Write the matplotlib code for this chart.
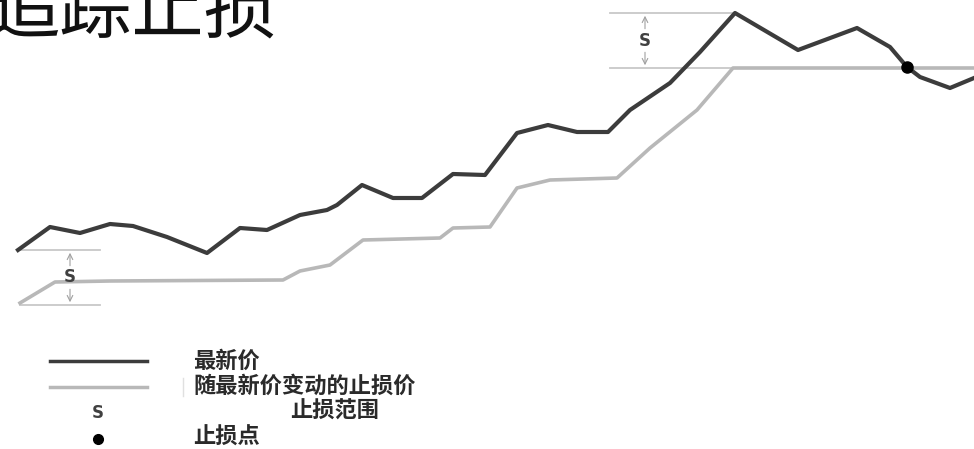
import matplotlib.pyplot as plt
from matplotlib.lines import Line2D

plt.rcParams['font.family'] = ['Noto Sans CJK SC', 'DejaVu Sans']

# latest price (time, price)
t_price = [18, 50, 80, 110, 133, 167, 207, 240, 267, 300, 327, 337, 362, 393, 422,
           453, 485, 517, 548, 577, 608, 630, 670, 700, 735, 798, 857, 890, 907, 920, 950, 974]
price = [199, 222, 216, 225, 223, 212, 196, 221, 219, 234, 239, 244, 264, 251, 251,
         275, 274, 316, 324, 317, 317, 339, 366, 397, 436, 399, 421, 402, 382, 372, 361, 371]

# trailing stop that follows the latest price
t_stop = [20, 55, 110, 283, 300, 330, 363, 440, 453, 490, 517, 550, 617, 650, 697, 733, 974]
stop = [146, 167, 168, 169, 178, 184, 209, 211, 221, 222, 261, 269, 271, 301, 339, 381, 381]

# stop-out point
hit_t, hit_p = 907, 382

# stop distance S shown at start and at the peak
s_marks = [(20, 100, 199, 144), (610, 733, 436, 381)]

dark = '#3c3c3c'
light = '#b8b8b8'

fig = plt.figure(figsize=(9.74, 4.49), dpi=100)
ax = fig.add_axes([0, 0, 1, 1])
ax.set_xlim(0, 974)
ax.set_ylim(0, 449)
ax.axis('off')

ax.plot(t_stop, stop, color=light, lw=2.6, solid_joinstyle='round')
ax.plot(t_price, price, color=dark, lw=3.0, solid_joinstyle='round')

for x0, x1, top, bot in s_marks:
    ax.plot([x0, x1], [top, top], color='#c8c8c8', lw=1.3, zorder=0)
    ax.plot([x0, x1], [bot, bot], color='#c8c8c8', lw=1.3, zorder=0)
    xm = x0 + 50 if x0 < 100 else x0 + 35
    mid = (top + bot) / 2
    ax.annotate('', xy=(xm, top), xytext=(xm, mid + 9),
                arrowprops=dict(arrowstyle='->', color='#a0a0a0', lw=0.8))
    ax.annotate('', xy=(xm, bot), xytext=(xm, mid - 9),
                arrowprops=dict(arrowstyle='->', color='#a0a0a0', lw=0.8))
    ax.text(xm, mid, 'S', ha='center', va='center', fontsize=12,
            fontweight='bold', color='#404040', family='DejaVu Sans')

ax.plot([hit_t], [hit_p], 'o', color='black', ms=8)

# title, cut off on the left and top as in the original
fig.text(-12 / 974, 1 - 31 / 449, '追踪止损', fontsize=52, color='#111111',
         ha='left', va='baseline')

# legend
fig.add_artist(Line2D([50 / 974, 147 / 974], [1 - 361 / 449] * 2, color=dark, lw=2.5))
fig.add_artist(Line2D([50 / 974, 147 / 974], [1 - 387 / 449] * 2, color=light, lw=2.5))
fig.add_artist(Line2D([183 / 974, 183 / 974], [1 - 378 / 449, 1 - 396 / 449],
                      color='#e0e0e0', lw=1))
fig.text(98 / 974, 1 - 413 / 449, 'S', fontsize=12, fontweight='bold',
         color='#404040', ha='center', va='center', family='DejaVu Sans')
fig.add_artist(Line2D([98 / 974], [1 - 439 / 449], marker='o', color='black', ms=7))
labels = ['最新价', '随最新价变动的止损价', '止损范围', '止损点']
lx = [193, 193, 290, 193]
ly = [361, 386, 411, 437]
for lab, x, y in zip(labels, lx, ly):
    fig.text(x / 974, 1 - y / 449, lab, fontsize=16, fontweight='bold',
             color='#2a2a2a', ha='left', va='center')

fig.savefig('out.png', dpi=100)
